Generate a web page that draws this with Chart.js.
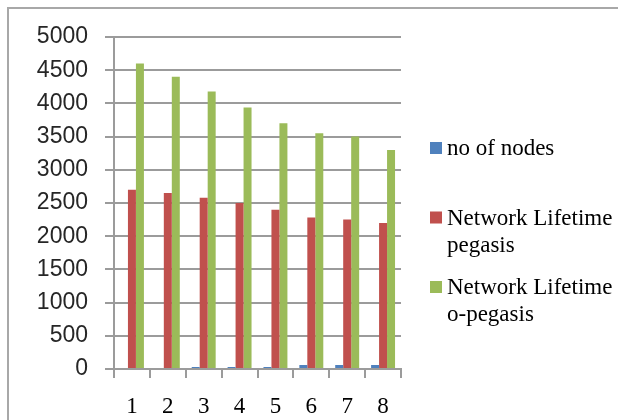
<!DOCTYPE html>
<html>
<head>
<meta charset="utf-8">
<script src="https://cdn.jsdelivr.net/npm/chart.js@4.4.1/dist/chart.umd.min.js"></script>
<style>
  html, body { margin: 0; padding: 0; background: #fff; }
  canvas { display: block; }
</style>
</head>
<body>
<canvas id="c" width="618" height="420"></canvas>
<script>
// Categories and series
const categories = ['1', '2', '3', '4', '5', '6', '7', '8'];
const noOfNodes = [0, 0, 30, 30, 30, 60, 60, 60];
const lifetimePegasis = [2700, 2650, 2580, 2500, 2400, 2280, 2250, 2200];
const lifetimeOPegasis = [4600, 4400, 4180, 3940, 3700, 3550, 3500, 3300];
const seriesLabels = ['no of nodes', 'Network Lifetime pegasis', 'Network Lifetime o-pegasis'];
const yMin = 0, yMax = 5000, yStep = 500;

const GRID = '#9b9b9b';

// Split a legend label into lines that fit the given width
function wrapText(ctx, text, maxW) {
  const words = text.split(' ');
  const lines = [];
  let cur = '';
  for (const w of words) {
    const test = cur ? cur + ' ' + w : w;
    if (cur && ctx.measureText(test).width > maxW) {
      lines.push(cur);
      cur = w;
    } else {
      cur = test;
    }
  }
  if (cur) lines.push(cur);
  return lines;
}

// White background plus the grey frame on the top and left edges
const framePlugin = {
  id: 'frame',
  beforeDraw(chart) {
    const ctx = chart.ctx;
    ctx.save();
    ctx.fillStyle = '#fff';
    ctx.fillRect(0, 0, chart.width, chart.height);
    ctx.strokeStyle = '#a8a8a8';
    ctx.lineWidth = 2;
    ctx.beginPath();
    ctx.moveTo(8, chart.height);
    ctx.lineTo(8, 8);
    ctx.lineTo(chart.width, 8);
    ctx.stroke();
    ctx.restore();
  }
};

// Legend on the right with wrapped serif labels
const sideLegend = {
  id: 'sideLegend',
  afterDraw(chart) {
    const ctx = chart.ctx;
    const boxX = 430, box = 12, textX = 447, maxW = 170;
    const firstBase = 155, pitch = 69.5, lineH = 27;
    ctx.save();
    ctx.font = '23px "Liberation Serif", "Times New Roman", serif';
    ctx.textAlign = 'left';
    ctx.textBaseline = 'alphabetic';
    chart.data.datasets.forEach((ds, i) => {
      const base = firstBase + i * pitch;
      ctx.fillStyle = ds.backgroundColor;
      ctx.fillRect(boxX, base - 13, box, box);
      ctx.fillStyle = '#000';
      wrapText(ctx, ds.label, maxW).forEach((ln, j) => {
        ctx.fillText(ln, textX, base + j * lineH);
      });
    });
    ctx.restore();
  }
};

new Chart(document.getElementById('c'), {
  type: 'bar',
  data: {
    labels: categories,
    datasets: [
      { label: seriesLabels[0], data: noOfNodes, backgroundColor: '#4F81BD' },
      { label: seriesLabels[1], data: lifetimePegasis, backgroundColor: '#C0504D' },
      { label: seriesLabels[2], data: lifetimeOPegasis, backgroundColor: '#9BBB59' }
    ]
  },
  options: {
    responsive: false,
    animation: false,
    layout: { padding: { top: 37, right: 217, left: 0, bottom: 0 } },
    datasets: { bar: { categoryPercentage: 0.668, barPercentage: 1.0 } },
    plugins: {
      legend: { display: false },
      tooltip: { enabled: false },
      title: { display: false }
    },
    scales: {
      x: {
        offset: true,
        grid: {
          offset: true,
          drawOnChartArea: false,
          drawTicks: true,
          tickLength: 9,
          color: GRID,
          lineWidth: 2
        },
        border: { display: true, color: GRID, width: 2 },
        ticks: {
          color: '#000',
          padding: 15,
          font: { family: '"Liberation Serif", "Times New Roman", serif', size: 23 }
        },
        afterFit(scale) { scale.height = 51; }
      },
      y: {
        min: yMin,
        max: yMax,
        ticks: {
          stepSize: yStep,
          color: '#262626',
          padding: 17,
          font: { family: '"Liberation Sans", Arial, sans-serif', size: 23 },
          callback: (v) => String(v)
        },
        grid: {
          color: GRID,
          lineWidth: 2,
          drawTicks: true,
          tickLength: 9
        },
        border: { display: true, color: GRID, width: 2 },
        afterFit(scale) { scale.width = 114; }
      }
    }
  },
  plugins: [framePlugin, sideLegend]
});
</script>
</body>
</html>
